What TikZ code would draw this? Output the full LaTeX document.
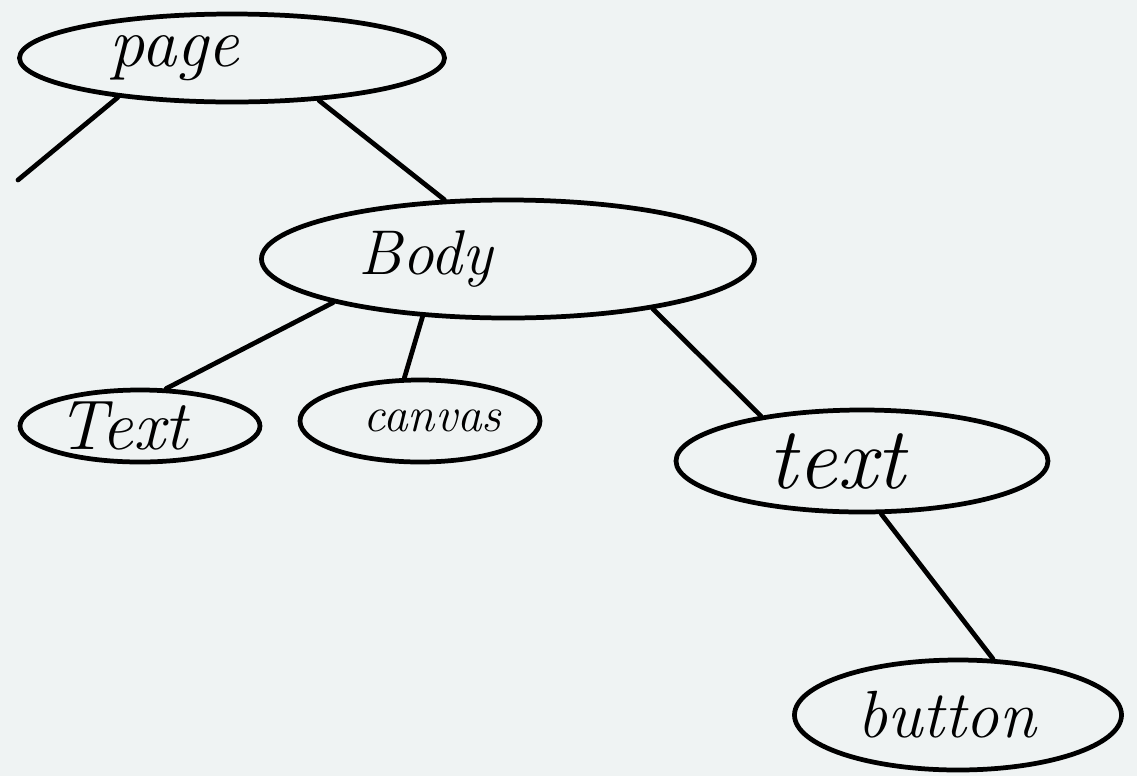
\documentclass[tikz,border=0pt]{standalone}
\usepackage{tikz}
\usetikzlibrary{shapes.geometric, positioning}
\definecolor{paper}{HTML}{EFF3F3}

\begin{document}
\begin{tikzpicture}[
    bubble/.style={ellipse, draw, line width=2.7pt, inner sep=0pt, font=\itshape},
    edge/.style={line width=2.7pt, line cap=round}
]
\fill[paper] (0,0) rectangle (22.74,-15.52);
\useasboundingbox (0,0) rectangle (22.74,-15.52);

% Nodes
\node (page) [bubble, minimum width=8.5cm, minimum height=1.76cm] at (4.64,-1.16) {\fontsize{40}{42}\selectfont page\hspace*{2.3cm}};
\node (Body) [bubble, minimum width=9.86cm, minimum height=2.36cm] at (10.16,-5.18) {\fontsize{36}{38}\selectfont Body\hspace*{3.3cm}};
\node (Text) [bubble, minimum width=4.8cm, minimum height=1.44cm] at (2.8,-8.52) {\fontsize{40}{42}\selectfont Text\hspace*{0.7cm}};
\node (canvas) [bubble, minimum width=4.8cm, minimum height=1.64cm] at (8.4,-8.42) {\hspace*{0.5cm}\fontsize{28}{30}\selectfont canvas};
\node (text) [bubble, minimum width=7.44cm, minimum height=2.04cm] at (17.24,-9.22) {\fontsize{50}{52}\selectfont text\hspace*{1cm}};
\node (button) [bubble, minimum width=6.54cm, minimum height=2.2cm] at (19.16,-14.3) {\fontsize{38}{40}\selectfont button\hspace*{0.45cm}};

% Loose end
\coordinate (loose) at (0.36,-3.6);

% Edges
\draw [edge] (page.-161) -- (loose);
\draw [edge] (page.-26) -- (Body.137);
\draw [edge] (Body.-166) -- (Text.55);
\draw [edge] (Body.-146) -- (canvas.110);
\draw [edge] (Body.-19) -- (text.156);
\draw [edge] (text.-70) -- (button.58);

\end{tikzpicture}
\end{document}
